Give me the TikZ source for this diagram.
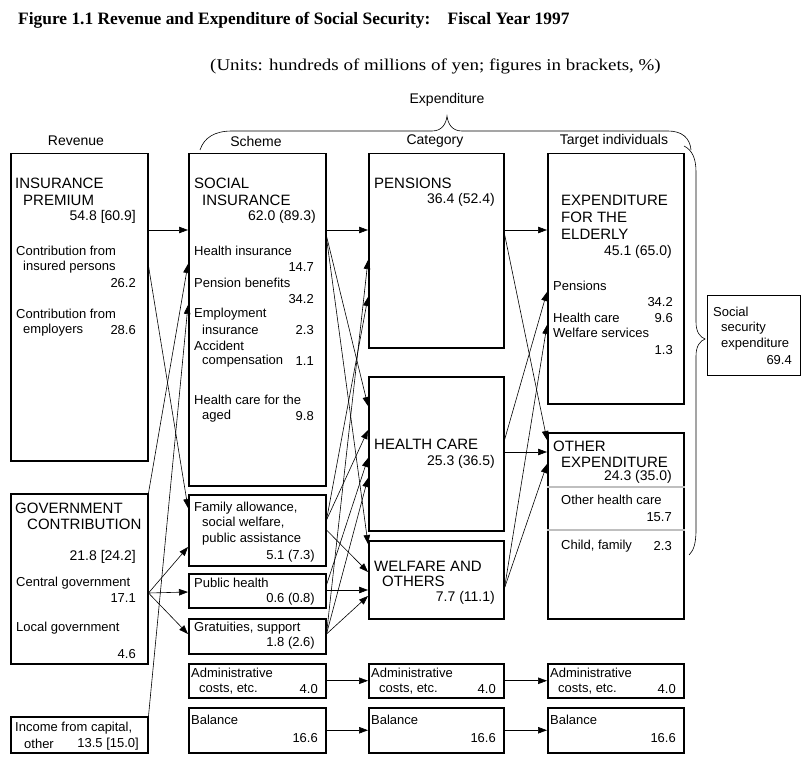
\documentclass[tikz,border=0pt]{standalone}
\usepackage{fontspec}
\setmainfont{Liberation Sans}
\newfontfamily\ttlfont{Liberation Serif}
\newfontfamily\unitfont{Liberation Serif}[FakeStretch=1.15]
\usetikzlibrary{arrows.meta}

\begin{document}
\begin{tikzpicture}[
	x=1pt, y=-1pt,
	box/.style={draw, line width=1.5pt, inner sep=0pt, anchor=north west},
	big/.style={font=\fontsize{15}{17}\selectfont, anchor=west, inner sep=0pt},
	small/.style={font=\fontsize{13}{15}\selectfont, anchor=west, inner sep=0pt},
	val/.style={small, anchor=east},
	bigval/.style={font=\fontsize{14}{16}\selectfont, anchor=east, inner sep=0pt},
	head/.style={font=\fontsize{14}{16}\selectfont, inner sep=0pt},
	arr/.style={-{Triangle[length=9pt,width=6.5pt]}, line width=0.6pt},
	sepline/.style={draw=black!25, line width=2pt},
]
\useasboundingbox[fill=white] (0,0) rectangle (810,762);

% titles
\node[font=\ttlfont\bfseries\fontsize{17.4}{19}\selectfont, anchor=west, inner sep=0pt] (title) at (18,20) {Figure 1.1 Revenue and Expenditure of Social Security:\quad Fiscal Year 1997};
\node[font=\unitfont\fontsize{16.5}{18}\selectfont, anchor=west, inner sep=0pt] (units) at (210,66) {(Units: hundreds of millions of yen; figures in brackets, \%)};
\node[head] (hexp) at (447,100) {Expenditure};
\node[head] (hrev) at (76,141) {Revenue};
\node[head] (hsch) at (256,141) {Scheme};
\node[head] (hcat) at (435,141) {Category};
\node[head] (htar) at (614,141) {Target individuals};

% braces
\draw[line width=0.6pt] (200,150) .. controls (204,138) and (214,131) .. (232,131) -- (432,131) .. controls (442,131) and (446,124) .. (447,116) .. controls (448,124) and (452,131) .. (462,131) -- (668,131) .. controls (682,131) and (690,138) .. (691,150);
\draw[line width=0.6pt] (684,146) .. controls (692,150) and (696,158) .. (696,172) -- (696,322) .. controls (696,332) and (700,337) .. (705,339) .. controls (700,341) and (696,346) .. (696,356) -- (696,530) .. controls (696,545) and (693,551) .. (689,555);

% revenue
\node[box, minimum width=137pt, minimum height=307pt] (prem) at (10,153) {};
\node[big] (prem1) at (15,183) {INSURANCE};
\node[big] (prem2) at (23,200) {PREMIUM};
\node[bigval] (prem3) at (136,217) {54.8 [60.9]};
\node[small] (prem4) at (16,251) {Contribution from};
\node[small] (prem5) at (23,267) {insured persons};
\node[val] (prem6) at (136,283) {26.2};
\node[small] (prem7) at (16,314) {Contribution from};
\node[small] (prem8) at (23,330) {employers};
\node[val] (prem9) at (136,330) {28.6};

\node[box, minimum width=137pt, minimum height=170pt] (gov) at (10,493) {};
\node[big] (gov1) at (15,508) {GOVERNMENT};
\node[big] (gov2) at (27,524) {CONTRIBUTION};
\node[bigval] (gov3) at (136,557) {21.8 [24.2]};
\node[small] (gov4) at (16,583) {Central government};
\node[val] (gov5) at (136,598) {17.1};
\node[small] (gov6) at (16,628) {Local government};
\node[val] (gov7) at (136,654) {4.6};

\node[box, minimum width=137pt, minimum height=36pt] (inc) at (10,716) {};
\node[small] (inc1) at (15,728) {Income from capital,};
\node[small] (inc2) at (24,744) {other};
\node[val] (inc3) at (139,744) {13.5 [15.0]};

% scheme
\node[box, minimum width=137pt, minimum height=332pt] (sins) at (188,153) {};
\node[big] (sins1) at (194,183) {SOCIAL};
\node[big] (sins2) at (202,200) {INSURANCE};
\node[bigval] (sins3) at (316,217) {62.0 (89.3)};
\node[small] (sins4) at (194,251) {Health insurance};
\node[val] (sins5) at (314,267) {14.7};
\node[small] (sins6) at (194,283) {Pension benefits};
\node[val] (sins7) at (314,299) {34.2};
\node[small] (sins8) at (194,314) {Employment};
\node[small] (sins9) at (202,330) {insurance};
\node[val] (sins10) at (314,330) {2.3};
\node[small] (sins11) at (194,346) {Accident};
\node[small] (sins12) at (202,361) {compensation};
\node[val] (sins13) at (314,361) {1.1};
\node[small] (sins14) at (194,400) {Health care for the};
\node[small] (sins15) at (202,416) {aged};
\node[val] (sins16) at (314,416) {9.8};

\node[box, minimum width=137pt, minimum height=71pt] (fam) at (188,494) {};
\node[small] (fam1) at (194,508) {Family allowance,};
\node[small] (fam2) at (202,523) {social welfare,};
\node[small] (fam3) at (202,539) {public assistance};
\node[val] (fam4) at (315,556) {5.1 (7.3)};

\node[box, minimum width=137pt, minimum height=34pt] (pub) at (188,573) {};
\node[small] (pub1) at (194,583) {Public health};
\node[val] (pub2) at (315,599) {0.6 (0.8)};

\node[box, minimum width=137pt, minimum height=35pt] (gra) at (188,618) {};
\node[small] (gra1) at (194,628) {Gratuities, support};
\node[val] (gra2) at (315,643) {1.8 (2.6)};

% category
\node[box, minimum width=135pt, minimum height=194pt] (pen) at (368,153) {};
\node[big] (pen1) at (374,183) {PENSIONS};
\node[bigval] (pen2) at (495,200) {36.4 (52.4)};

\node[box, minimum width=135pt, minimum height=154pt] (hc) at (368,376) {};
\node[big] (hc1) at (374,444) {HEALTH CARE};
\node[bigval] (hc2) at (495,462) {25.3 (36.5)};

\node[box, minimum width=135pt, minimum height=78pt] (wel) at (368,540) {};
\node[big] (wel1) at (374,566) {WELFARE AND};
\node[big] (wel2) at (382,581) {OTHERS};
\node[bigval] (wel3) at (495,598) {7.7 (11.1)};

% target
\node[box, minimum width=136pt, minimum height=250pt] (eld) at (547,153) {};
\node[big] (eld1) at (561,200) {EXPENDITURE};
\node[big] (eld2) at (561,217) {FOR THE};
\node[big] (eld3) at (561,234) {ELDERLY};
\node[bigval] (eld4) at (672,252) {45.1 (65.0)};
\node[small] (eld5) at (553,286) {Pensions};
\node[val] (eld6) at (673,302) {34.2};
\node[small] (eld7) at (553,318) {Health care};
\node[val] (eld8) at (673,318) {9.6};
\node[small] (eld9) at (553,333) {Welfare services};
\node[val] (eld10) at (673,350) {1.3};

\node[box, minimum width=136pt, minimum height=186pt] (oth) at (547,432) {};
\draw[sepline] (oth.west |- 0,487) -- (oth.east |- 0,487);
\draw[sepline] (oth.west |- 0,530) -- (oth.east |- 0,530);
\node[big] (oth1) at (553,446) {OTHER};
\node[big] (oth2) at (561,462) {EXPENDITURE};
\node[bigval] (oth3) at (672,477) {24.3 (35.0)};
\node[small] (oth4) at (561,500) {Other health care};
\node[val] (oth5) at (672,517) {15.7};
\node[small] (oth6) at (561,546) {Child, family};
\node[val] (oth7) at (672,546) {2.3};

\node[box, line width=1pt, minimum width=93pt, minimum height=80pt] (sse) at (707,295) {};
\node[small] (sse1) at (713,312) {Social};
\node[small] (sse2) at (721,328) {security};
\node[small] (sse3) at (721,344) {expenditure};
\node[val] (sse4) at (792,360) {69.4};

% administrative costs and balance
\foreach \col/\xx/\ww in {1/188/137, 2/368/135, 3/547/136} {
	\node[box, minimum width=\ww pt, minimum height=34pt] (adm\col) at (\xx,663) {};
	\node[small] (admA\col) at (\xx+3,673) {Administrative};
	\node[small] (admB\col) at (\xx+11,689) {costs, etc.};
	\node[val] (admC\col) at (\xx+\ww-7,689) {4.0};
	\node[box, minimum width=\ww pt, minimum height=45pt] (bal\col) at (\xx,707) {};
	\node[small] (balA\col) at (\xx+3,720) {Balance};
	\node[val] (balB\col) at (\xx+\ww-7,738) {16.6};
}

% revenue -> scheme
\draw[arr] (prem.east |- 0,230) -- (sins.west |- 0,230);
\draw[arr] (prem.east |- 0,266) -- (fam.west |- 0,508);
\draw[arr] (gov.north east) -- (sins.west |- 0,264);
\draw[arr] (inc.north east) -- (sins.west |- 0,305);
\draw[arr] (gov.east |- 0,593) -- (fam.west |- 0,547);
\draw[arr] (gov.east |- 0,593) -- (pub.west |- 0,592);
\draw[arr] (gov.east |- 0,593) -- (gra.west |- 0,634);

% scheme -> category
\draw[arr] (sins.east |- 0,230) -- (pen.west |- 0,230);
\draw[arr] (sins.east |- 0,236) -- (hc.west |- 0,406);
\draw[arr] (sins.east |- 0,238) -- (wel.west |- 0,544);
\draw[arr] (fam.east |- 0,520) -- (pen.west |- 0,297);
\draw[arr] (fam.east |- 0,520) -- (hc.west |- 0,430);
\draw[arr] (fam.east |- 0,530) -- (wel.west |- 0,572);
\draw[arr] (pub.east |- 0,585) -- (hc.west |- 0,458);
\draw[arr] (pub.east |- 0,590) -- (wel.west |- 0,590);
\draw[arr] (gra.east |- 0,634) -- (pen.west |- 0,260);
\draw[arr] (gra.east |- 0,634) -- (hc.west |- 0,478);
\draw[arr] (gra.east |- 0,634) -- (wel.west |- 0,596);

% category -> target
\draw[arr] (pen.east |- 0,230) -- (eld.west |- 0,230);
\draw[arr] (pen.east |- 0,234) -- (oth.west |- 0,440);
\draw[arr] (hc.east |- 0,440) -- (eld.west |- 0,292);
\draw[arr] (hc.east |- 0,452) -- (oth.west |- 0,452);
\draw[arr] (wel.east |- 0,588) -- (eld.west |- 0,325);
\draw[arr] (wel.east |- 0,588) -- (oth.west |- 0,464);

\draw[arr] (adm1) -- (adm2);
\draw[arr] (adm2) -- (adm3);
\draw[arr] (bal1) -- (bal2);
\draw[arr] (bal2) -- (bal3);
\end{tikzpicture}
\end{document}
